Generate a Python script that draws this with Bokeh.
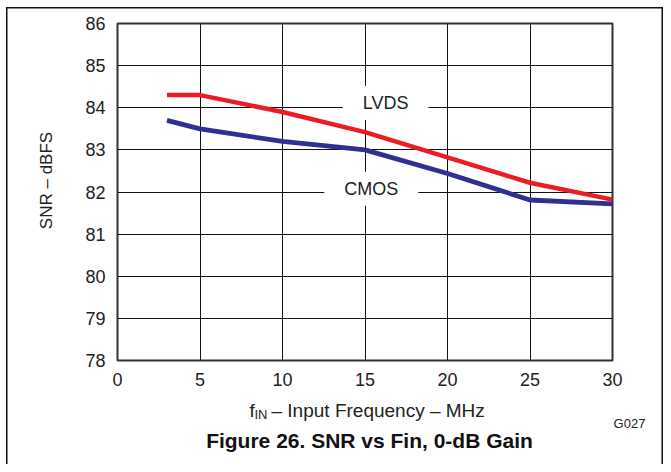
import math
from bokeh.plotting import figure
from bokeh.models import Label, FixedTicker, Range1d
from bokeh.embed import file_html
from bokeh.resources import INLINE

# ---- data ----
freq_mhz = [3, 5, 10, 15, 20, 25, 30]
snr_lvds = [84.3, 84.3, 83.9, 83.42, 82.82, 82.22, 81.82]
snr_cmos = [83.7, 83.5, 83.2, 83.0, 82.44, 81.81, 81.72]
x_ticks = [0, 5, 10, 15, 20, 25, 30]
y_ticks = [78, 79, 80, 81, 82, 83, 84, 85, 86]
series_names = ["LVDS", "CMOS"]
title_text = "Figure 26. SNR vs Fin, 0-dB Gain"
y_label_text = "SNR \u2013 dBFS"
x_label_main = "\u2013 Input Frequency \u2013 MHz"
figure_code = "G027"

FONT = "Liberation Sans"
TXT = "#222222"

p = figure(width=663, height=464, output_backend="svg", toolbar_location=None,
           x_range=Range1d(0, 30), y_range=Range1d(78, 86),
           min_border_left=117, min_border_right=51,
           min_border_top=23, min_border_bottom=104)

p.background_fill_color = "white"
p.border_fill_color = None
p.outline_line_color = "#333333"
p.outline_line_width = 2

# thin page frame (left, top, right) drawn behind the transparent border area
p.styles = {
    "background-color": "white",
    "box-shadow": ("inset 6px 0 0 0 white, inset 0 7px 0 0 white, "
                   "inset 7.5px 0 0 0 #111111, inset 0 8.5px 0 0 #111111, "
                   "inset -1.5px 0 0 0 #111111"),
}

for ax in (p.xaxis[0], p.yaxis[0]):
    ax.axis_line_color = None
    ax.major_tick_line_color = None
    ax.minor_tick_line_color = None
    ax.major_tick_in = 0
    ax.major_tick_out = 0
    ax.major_label_text_font = FONT
    ax.major_label_text_font_size = "18px"
    ax.major_label_text_color = TXT
    ax.major_label_standoff = 12

p.xaxis[0].ticker = FixedTicker(ticks=x_ticks)
p.yaxis[0].ticker = FixedTicker(ticks=y_ticks)

p.xgrid[0].ticker = FixedTicker(ticks=x_ticks)
p.ygrid[0].ticker = FixedTicker(ticks=y_ticks)
for g in (p.xgrid[0], p.ygrid[0]):
    g.grid_line_color = "#111111"
    g.grid_line_width = 1
    g.grid_line_alpha = 1.0

p.line(freq_mhz, snr_lvds, line_color="#ed1c24", line_width=4.5)
p.line(freq_mhz, snr_cmos, line_color="#2e3192", line_width=4.8)

# series labels, white box hides the grid lines behind them
label_pos = {"LVDS": (16.25, 84.11), "CMOS": (15.38, 82.08)}
for name in series_names:
    lx, ly = label_pos[name]
    p.add_layout(Label(x=lx, y=ly, text=name, text_font=FONT, text_font_size="18px",
                       text_color=TXT, text_align="center", text_baseline="middle",
                       background_fill_color="white", padding=(20, 20, 7, 7)))


def canvas_label(text, x, y, size, **kw):
    opts = dict(text_font=FONT, text_font_size=size, text_color=TXT,
                text_align="center", text_baseline="middle")
    opts.update(kw)
    return Label(x=x, y=y, x_units="canvas", y_units="canvas", text=text, **opts)


# left side: y axis title, "f" + subscript of the x title
p.add_layout(canvas_label(y_label_text, 45.5, 180, "17px", angle=math.pi / 2), "left")
p.add_layout(canvas_label("f", 249, 410, "19px", text_align="left"), "left")
p.add_layout(canvas_label("IN", 254, 414, "13px", text_align="left"), "left")

# below: x axis title main text and caption
p.add_layout(canvas_label(x_label_main, 271, 410, "19px", text_align="left"), "below")
p.add_layout(canvas_label(title_text, 369, 440, "21px", text_font_style="bold",
                          text_color="#111111"), "below")

# right: figure code
p.add_layout(canvas_label(figure_code, 629, 423, "13px"), "right")

open("out.html", "w").write(file_html(p, INLINE))
